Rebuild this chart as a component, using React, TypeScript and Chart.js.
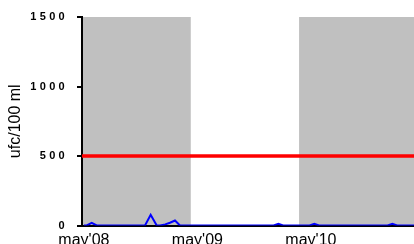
import React, { useEffect, useRef } from "react";
import { Chart, registerables } from "chart.js";

Chart.register(...registerables);

// x values are months counted from may'08
const sampleMonths = [
  0, 0.3, 0.83, 1.35, 2.3, 3.3, 4.3, 5.3, 6.46, 7.06, 7.7, 8.05, 8.6, 9.1, 9.63, 10.16,
  11.2, 12.2, 13.2, 14.2, 15.2, 16.2, 17.2, 18.2, 19.2, 20.06, 20.56, 21.06, 22.0, 23.0,
  23.86, 24.36, 24.86, 26.0, 27.0, 28.0, 29.0, 30.0, 31.0, 32.11, 32.61, 33.11, 34.0, 34.9,
];
const sampleValues = [
  0, 0, 19, 0, 0, 0, 0, 0, 0, 77, 0, 0, 8, 20, 36, 0,
  0, 0, 0, 0, 0, 0, 0, 0, 0, 0, 12, 0, 0, 0,
  0, 12, 0, 0, 0, 0, 0, 0, 0, 0, 12, 0, 0, 0,
];
const limitValue = 500;
const xMin = -0.2;
const xMax = 34.9;
const tickMonths = [0, 12, 24];
const tickLabels = ["may'08", "may'09", "may'10"];
const yTicks = [0, 500, 1000, 1500];
const yTickLabels = ["0", "500", "1000", "1500"];
const bands: [number, number][] = [
  [-0.2, 11.3],
  [22.75, 34.9],
];
const yTitle = "ufc/100 ml";

const FONT = "'Liberation Sans', Arial, sans-serif";

const bandsPlugin = {
  id: "bands",
  beforeDraw(chart: any) {
    const { ctx, chartArea, scales } = chart;
    const x = scales.x;
    ctx.save();
    ctx.fillStyle = "#c0c0c0";
    for (const [a, b] of bands) {
      const x0 = Math.max(x.getPixelForValue(a), chartArea.left);
      const x1 = Math.min(x.getPixelForValue(b), chartArea.right);
      ctx.fillRect(x0, chartArea.top, x1 - x0, chartArea.bottom - chartArea.top);
    }
    ctx.restore();
    const ys = scales.y;
    if (ys && !ys.__spaced) {
      const orig = ys.drawLabels.bind(ys);
      ys.drawLabels = (area: any) => {
        ctx.save();
        (ctx as any).letterSpacing = "3.3px";
        orig(area);
        ctx.restore();
      };
      ys.__spaced = true;
    }
  },
};

export default function App() {
  const ref = useRef<HTMLCanvasElement>(null);
  useEffect(() => {
    if (!ref.current) return;
    const chart = new Chart(ref.current, {
      type: "line",
      data: {
        datasets: [
          {
            data: sampleMonths.map((m, i) => ({ x: m, y: sampleValues[i] })),
            borderColor: "#0000ff",
            borderWidth: 2,
            pointRadius: 0,
            tension: 0,
          },
          {
            data: [
              { x: xMin, y: limitValue },
              { x: xMax, y: limitValue },
            ],
            borderColor: "#ff0000",
            borderWidth: 3.5,
            pointRadius: 0,
          },
        ],
      },
      options: {
        animation: false,
        responsive: false,
        maintainAspectRatio: false,
        layout: { padding: { top: 17, left: 0, right: 0, bottom: 0 } },
        plugins: { legend: { display: false }, tooltip: { enabled: false } },
        scales: {
          x: {
            type: "linear",
            min: xMin,
            max: xMax,
            afterBuildTicks: (s: any) => {
              s.ticks = tickMonths.map((v) => ({ value: v }));
            },
            afterFit: (s: any) => {
              s.height = 18.5;
            },
            grid: { display: false, drawTicks: false },
            border: { display: true, color: "#000", width: 2 },
            ticks: {
              autoSkip: false,
              maxRotation: 0,
              padding: 5,
              color: "#000",
              font: { family: FONT, size: 16 },
              callback: (v: any) => {
                const i = tickMonths.indexOf(Number(v));
                return i >= 0 ? tickLabels[i] : "";
              },
            },
          },
          y: {
            min: 0,
            max: 1500,
            afterBuildTicks: (s: any) => {
              s.ticks = yTicks.map((v) => ({ value: v }));
            },
            afterFit: (s: any) => {
              s.width = 82;
            },
            grid: {
              display: true,
              drawOnChartArea: false,
              drawTicks: true,
              tickLength: 5,
              color: "#000",
              lineWidth: 2,
            },
            border: { display: true, color: "#000", width: 2 },
            ticks: {
              padding: 9,
              color: "#000",
              font: { family: FONT, size: 11, weight: "bold" },
              callback: (v: any) => {
                const i = yTicks.indexOf(Number(v));
                return i >= 0 ? yTickLabels[i] : "";
              },
            },
            title: {
              display: true,
              text: yTitle,
              color: "#000",
              padding: { top: 6, bottom: 0 },
              font: { family: FONT, size: 16 },
            },
          },
        },
      },
      plugins: [bandsPlugin],
    });
    return () => chart.destroy();
  }, []);
  return (
    <div style={{ position: "absolute", left: 0, top: 0, width: 414, height: 244 }}>
      <canvas ref={ref} width={414} height={244} style={{ width: 414, height: 244 }} />
    </div>
  );
}
